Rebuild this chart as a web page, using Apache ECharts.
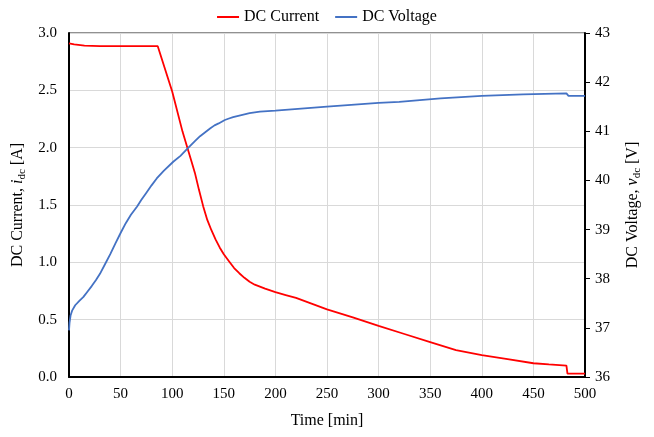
<!DOCTYPE html>
<html>
<head>
<meta charset="utf-8">
<script src="https://cdn.jsdelivr.net/npm/echarts@6/dist/echarts.min.js"></script>
<style>
  html, body { margin: 0; padding: 0; background: #fff; }
  #chart { width: 654px; height: 437px; }
</style>
</head>
<body>
<div id="chart"></div>
<script>
// Time [min] / DC current [A] samples
const currentTime = [0, 5, 15, 30, 86, 100, 110, 115, 119, 122, 126, 130, 134, 138, 142, 146, 150, 155, 160, 165, 170, 175, 180, 190, 200, 210, 220, 235, 250, 275, 300, 325, 350, 375, 400, 425, 450, 465, 482, 483, 500];
const currentValues = [2.91, 2.90, 2.89, 2.885, 2.885, 2.49, 2.14, 1.99, 1.87, 1.78, 1.63, 1.49, 1.37, 1.28, 1.20, 1.13, 1.07, 1.01, 0.95, 0.905, 0.865, 0.83, 0.805, 0.77, 0.74, 0.715, 0.69, 0.64, 0.59, 0.52, 0.445, 0.375, 0.305, 0.235, 0.19, 0.155, 0.12, 0.11, 0.10, 0.03, 0.03];

// Time [min] / DC voltage [V] samples
const voltageTime = [0, 0.5, 1.5, 3, 6, 10, 14, 18, 22, 26, 30, 35, 40, 45, 50, 55, 60, 66, 70, 75, 80, 85, 92, 101, 108, 115, 122, 127, 132, 137, 141, 145, 151, 155, 159, 163, 167, 171, 175, 185, 200, 250, 300, 320, 360, 400, 440, 482, 484, 500];
const voltageValues = [36.95, 37.1, 37.25, 37.35, 37.46, 37.55, 37.63, 37.74, 37.85, 37.97, 38.1, 38.3, 38.5, 38.72, 38.93, 39.13, 39.3, 39.47, 39.6, 39.75, 39.9, 40.04, 40.2, 40.38, 40.5, 40.65, 40.8, 40.9, 40.98, 41.06, 41.12, 41.16, 41.23, 41.26, 41.29, 41.31, 41.33, 41.35, 41.37, 41.4, 41.42, 41.5, 41.58, 41.6, 41.67, 41.72, 41.75, 41.77, 41.72, 41.72];

const currentTicks = { min: 0, max: 3, interval: 0.5 };
const voltageTicks = { min: 36, max: 43, interval: 1 };
const timeTicks = { min: 0, max: 500, interval: 50 };

const FONT = 'Liberation Serif';
const pair = (xs, ys) => xs.map((x, i) => [x, ys[i]]);

const nameRich = {
  a: { fontFamily: FONT, fontSize: 16, color: '#000' },
  i: { fontFamily: FONT, fontSize: 16, color: '#000', fontStyle: 'italic' },
  s: { fontFamily: FONT, fontSize: 11, color: '#000', padding: [9, 0, 0, 0] }
};

const chart = echarts.init(document.getElementById('chart'), null, { renderer: 'canvas' });
chart.setOption({
  animation: false,
  backgroundColor: '#fff',
  legend: {
    top: 4,
    left: 'center',
    itemWidth: 22,
    itemHeight: 2,
    itemGap: 16,
    icon: 'rect',
    textStyle: { fontFamily: FONT, fontSize: 16, color: '#000' },
    data: ['DC Current', 'DC Voltage']
  },
  grid: {
    left: 69, right: 69, top: 33, bottom: 60,
    show: true, borderColor: '#222', borderWidth: 1
  },
  xAxis: {
    type: 'value',
    min: timeTicks.min, max: timeTicks.max, interval: timeTicks.interval,
    name: 'Time [min]',
    nameLocation: 'middle',
    nameGap: 36,
    nameTextStyle: { fontFamily: FONT, fontSize: 16, color: '#000' },
    axisLine: { lineStyle: { color: '#000', width: 2 } },
    axisTick: { show: false },
    axisLabel: { fontFamily: FONT, fontSize: 15, color: '#000', margin: 10 },
    splitLine: { lineStyle: { color: '#d9d9d9', width: 1 } }
  },
  yAxis: [
    {
      type: 'value',
      position: 'left',
      min: currentTicks.min, max: currentTicks.max, interval: currentTicks.interval,
      name: '{a|DC Current, }{i|i}{s|dc}{a| [A]}',
      nameLocation: 'middle',
      nameGap: 40,
      nameRotate: 90,
      nameTextStyle: { rich: nameRich },
      axisLine: { show: true, lineStyle: { color: '#000', width: 2 } },
      axisTick: { show: false },
      axisLabel: {
        fontFamily: FONT, fontSize: 15, color: '#000', margin: 12,
        formatter: v => v.toFixed(1)
      },
      splitLine: { lineStyle: { color: '#d9d9d9', width: 1 } }
    },
    {
      type: 'value',
      position: 'right',
      min: voltageTicks.min, max: voltageTicks.max, interval: voltageTicks.interval,
      name: '{a|DC Voltage, }{i|v}{s|dc}{a| [V]}',
      nameLocation: 'middle',
      nameGap: 38,
      nameRotate: 90,
      nameTextStyle: { rich: nameRich },
      axisLine: { show: true, lineStyle: { color: '#000', width: 2 } },
      axisTick: { show: true, inside: false, length: 5, lineStyle: { color: '#000', width: 1 } },
      axisLabel: { fontFamily: FONT, fontSize: 15, color: '#000', margin: 10 },
      splitLine: { show: false }
    }
  ],
  series: [
    {
      name: 'DC Current',
      type: 'line',
      yAxisIndex: 0,
      data: pair(currentTime, currentValues),
      showSymbol: false,
      lineStyle: { color: '#ff0000', width: 1.8 },
      itemStyle: { color: '#ff0000' }
    },
    {
      name: 'DC Voltage',
      type: 'line',
      yAxisIndex: 1,
      data: pair(voltageTime, voltageValues),
      showSymbol: false,
      lineStyle: { color: '#4472c4', width: 1.8 },
      itemStyle: { color: '#4472c4' }
    }
  ]
});
</script>
</body>
</html>
